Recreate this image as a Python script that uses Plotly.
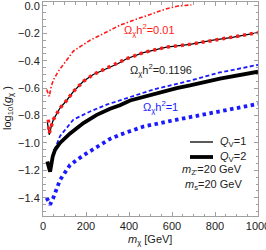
import plotly.graph_objects as go

# --- data ---
# Q_V=1, Omega h^2 = 0.01 (red dash-dot)
mx_r1 = [17, 29, 38, 48, 70, 94, 141, 180, 219, 296, 358, 410, 465, 520, 575, 628, 690]
g_r1 = [-0.61, -0.66, -0.59, -0.54, -0.48, -0.43, -0.33, -0.29, -0.25, -0.19, -0.14, -0.11, -0.08, -0.05, -0.02, 0.0, 0.008]
# Q_V=2, Omega h^2 = 0.01 (red thick dotted)
mx_r2 = [25, 29, 40, 48, 79, 110, 141, 188, 234, 296, 350, 389, 467, 575, 684, 791, 880, 1000]
g_r2 = [-0.83, -0.93, -0.87, -0.83, -0.745, -0.69, -0.625, -0.55, -0.50, -0.455, -0.42, -0.385, -0.34, -0.30, -0.28, -0.25, -0.23, -0.195]
# Q_V=1, Omega h^2 = 0.1196 (black thin)
mx_k1 = [20, 29, 40, 48, 79, 110, 141, 188, 234, 296, 350, 389, 467, 575, 684, 791, 880, 1000]
g_k1 = [-0.845, -0.94, -0.87, -0.83, -0.745, -0.69, -0.625, -0.55, -0.50, -0.455, -0.42, -0.385, -0.34, -0.30, -0.28, -0.25, -0.23, -0.195]
# Q_V=2, Omega h^2 = 0.1196 (black thick)
mx_k2 = [20, 33, 45, 56, 79, 126, 188, 250, 312, 358, 405, 498, 622, 684, 823, 1000]
g_k2 = [-1.135, -1.21, -1.10, -1.05, -1.00, -0.93, -0.855, -0.795, -0.75, -0.725, -0.69, -0.65, -0.60, -0.58, -0.53, -0.48]
# Q_V=1, Omega h^2 = 1 (blue dashed)
mx_b1 = [33, 45, 56, 79, 141, 219, 296, 389, 513, 684, 823, 1000]
g_b1 = [-1.19, -1.09, -1.04, -0.95, -0.83, -0.77, -0.72, -0.675, -0.61, -0.545, -0.485, -0.43]
# Q_V=2, Omega h^2 = 1 (blue thick dotted)
mx_b2 = [17, 33, 48, 79, 126, 188, 250, 312, 358, 467, 622, 777, 1000]
g_b2 = [-1.40, -1.45, -1.40, -1.27, -1.16, -1.09, -1.03, -0.97, -0.94, -0.88, -0.83, -0.78, -0.715]

x_ticks = [0, 200, 400, 600, 800, 1000]
y_ticks = [0.0, -0.2, -0.4, -0.6, -0.8, -1.0, -1.2, -1.4]
y_tick_text = ["0.0", "−0.2", "−0.4", "−0.6", "−0.8", "−1.0", "−1.2", "−1.4"]

RED = "#ff1a1a"
BLUE = "#1a1aff"
FONT = "Liberation Sans, Arial, sans-serif"

W, H = 266, 250
ML, MR, MT, MB = 43, 8, 2, 34


def px(xp):
    return (xp - ML) / (W - ML - MR)


def py(yp):
    return (H - MB - yp) / (H - MT - MB)


fig = go.Figure()
fig.add_trace(go.Scatter(x=mx_r1, y=g_r1, mode="lines",
                         line=dict(color=RED, width=1.6, dash="4px,2px,1.5px,2px"), showlegend=False))
fig.add_trace(go.Scatter(x=mx_b1, y=g_b1, mode="lines",
                         line=dict(color=BLUE, width=1.8, dash="4px,2.5px"), showlegend=False))
fig.add_trace(go.Scatter(x=mx_k2, y=g_k2, mode="lines",
                         line=dict(color="black", width=3.8), showlegend=False))
fig.add_trace(go.Scatter(x=mx_b2, y=g_b2, mode="lines",
                         line=dict(color=BLUE, width=3.8, dash="3.5px,3.5px"), showlegend=False))
fig.add_trace(go.Scatter(x=mx_k1, y=g_k1, mode="lines",
                         line=dict(color="black", width=1.3), showlegend=False))
fig.add_trace(go.Scatter(x=mx_r2, y=g_r2, mode="lines",
                         line=dict(color=RED, width=3.5, dash="3px,4px"), showlegend=False))

ann = [
    dict(x=122, y=30, text="Ω<sub>χ</sub>h<sup>2</sup>=0.01", color=RED),
    dict(x=128, y=70, text="Ω<sub>χ</sub>h<sup>2</sup>=0.1196", color="#222222"),
    dict(x=141, y=107, text="Ω<sub>χ</sub>h<sup>2</sup>=1", color=BLUE),
]
annotations = []
for a in ann:
    annotations.append(dict(x=px(a["x"]), y=py(a["y"]), xref="paper", yref="paper",
                            xanchor="left", yanchor="middle", showarrow=False, text=a["text"],
                            font=dict(family=FONT, size=11, color=a["color"])))

# legend texts
leg = [
    (248, 142, "<i>Q</i><sub>V</sub>=1"),
    (248, 157, "<i>Q</i><sub>V</sub>=2"),
    (244, 170, "<i>m</i><sub>Z'</sub>=20 GeV"),
    (244, 185, "<i>m</i><sub>s</sub>=20 GeV"),
]
for xr, yy, t in leg:
    annotations.append(dict(x=px(xr), y=py(yy), xref="paper", yref="paper",
                            xanchor="right", yanchor="middle", showarrow=False, text=t,
                            font=dict(family=FONT, size=11, color="#222222")))

# axis titles
annotations.append(dict(x=px(150), y=py(240), xref="paper", yref="paper",
                        xanchor="center", yanchor="middle", showarrow=False,
                        text="<i>m</i><sub>χ</sub> [GeV]",
                        font=dict(family=FONT, size=11, color="#222222")))
annotations.append(dict(x=px(8), y=py(108), xref="paper", yref="paper",
                        xanchor="center", yanchor="middle", showarrow=False, textangle=-90,
                        text="log<sub>10</sub>(<i>g</i><sub>χ</sub> )",
                        font=dict(family=FONT, size=11, color="#222222")))

shapes = [
    dict(type="line", xref="paper", yref="paper", x0=px(190), x1=px(213),
         y0=py(142), y1=py(142), line=dict(color="black", width=1.3)),
    dict(type="line", xref="paper", yref="paper", x0=px(190), x1=px(213),
         y0=py(157), y1=py(157), line=dict(color="black", width=3.8)),
]

axis_common = dict(showgrid=False, zeroline=False, showline=True, linecolor="#a0a0a0",
                   linewidth=1, mirror="allticks", ticks="inside", tickcolor="#a0a0a0",
                   ticklen=4, tickwidth=1, ticklabeloverflow="allow",
                   tickfont=dict(family=FONT, size=11, color="#222222"))

fig.update_layout(
    width=W, height=H,
    margin=dict(l=ML, r=MR, t=MT, b=MB, autoexpand=False),
    paper_bgcolor="white", plot_bgcolor="white",
    xaxis=dict(range=[0, 1000], tickvals=x_ticks, ticktext=[str(v) for v in x_ticks],
               minor=dict(dtick=50, tick0=0, ticks="inside", ticklen=2.5, tickcolor="#a0a0a0"),
               **axis_common),
    yaxis=dict(range=[-1.533, 0.029], tickvals=y_ticks, ticktext=y_tick_text,
               minor=dict(dtick=0.05, tick0=0, ticks="inside", ticklen=2.5, tickcolor="#a0a0a0"),
               **axis_common),
    annotations=annotations, shapes=shapes,
)

fig.write_html("out.html", config={"displayModeBar": False},
               post_script="document.body.style.margin='0';document.body.style.padding='0';")
